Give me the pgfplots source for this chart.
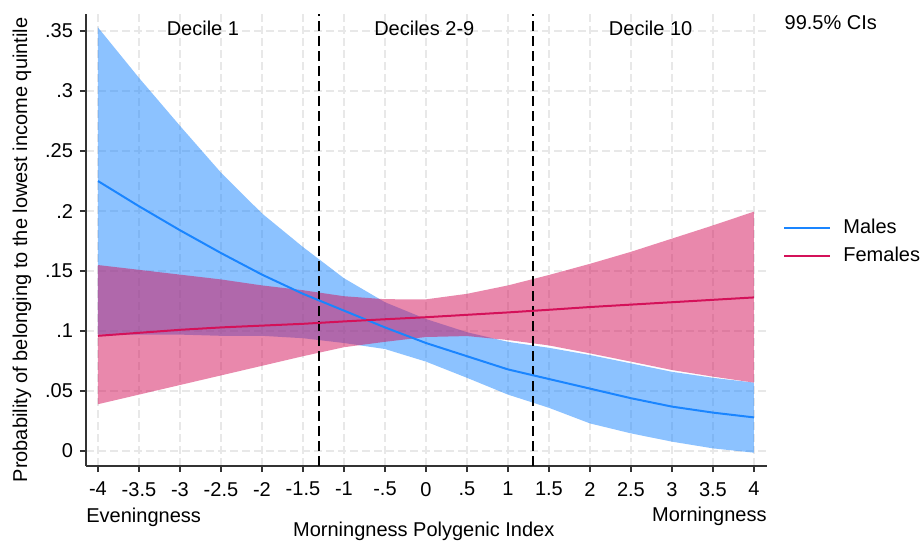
\documentclass[border=0pt]{standalone}
\usepackage{fontspec}
\setmainfont{Liberation Sans}
\usepackage{pgfplots}
\pgfplotsset{compat=1.18}
\usepgfplotslibrary{fillbetween}
\usepackage{pgfplotstable}
\definecolor{stcA}{RGB}{26,133,255}
\definecolor{stcB}{RGB}{212,17,89}

\pgfplotstableread{
x    mlo     m      mhi    flo     f       fhi
-4   0.097   0.225  0.353  0.039   0.096   0.155
-3.5 0.097   0.204  0.311  0.047   0.0985  0.151
-3   0.097   0.184  0.271  0.055   0.101   0.147
-2.5 0.096   0.165  0.232  0.063   0.103   0.143
-2   0.096   0.147  0.198  0.071   0.1045  0.138
-1.5 0.094   0.131  0.170  0.079   0.106   0.134
-1   0.090   0.117  0.144  0.0865  0.108   0.129
-0.5 0.085   0.103  0.124  0.091   0.1098  0.1265
0    0.0745  0.090  0.110  0.095   0.1115  0.1264
0.5  0.061   0.079  0.099  0.0958  0.1135  0.131
1    0.047   0.068  0.091  0.0925  0.1155  0.138
1.5  0.036   0.060  0.086  0.088   0.1177  0.1467
2    0.023   0.052  0.080  0.0814  0.120   0.156
2.5  0.0147  0.044  0.073  0.0745  0.122   0.166
3    0.0078  0.037  0.066  0.0675  0.124   0.177
3.5  0.0022  0.032  0.061  0.062   0.126   0.188
4    -0.0014 0.028  0.057  0.057   0.128   0.1995
}\data

\begin{document}
\begin{tikzpicture}
\begin{axis}[
  at={(0,0)}, anchor=south west,
  scale only axis, width=340.5pt, height=226pt,
  xmin=-4.146, xmax=4.159, ymin=-0.0125, ymax=0.3642,
  axis x line*=bottom, axis y line*=left,
  axis line style={black!80, line width=0.6pt},
  tick align=outside, major tick length=3pt,
  tick style={black!80, line width=0.6pt},
  xtick={-4,-3.5,-3,-2.5,-2,-1.5,-1,-0.5,0,0.5,1,1.5,2,2.5,3,3.5,4},
  xticklabels={-4,-3.5,-3,-2.5,-2,-1.5,-1,-.5,0,.5,1,1.5,2,2.5,3,3.5,4},
  ytick={0,0.05,0.1,0.15,0.2,0.25,0.3,0.35},
  yticklabels={0,.05,.1,.15,.2,.25,.3,.35},
  ticklabel style={font=\fontsize{10}{12}\selectfont},
  xticklabel style={yshift=-1.5pt},
  grid=major,
  major grid style={black!9, dash pattern=on 4pt off 2pt, line width=0.6pt},
  xlabel={Morningness Polygenic Index},
  ylabel={Probability of belonging to the lowest income quintile},
  label style={font=\fontsize{10}{12}\selectfont},
  xlabel style={at={(axis description cs:0.496,-0.156)}, anchor=base},
  ylabel style={at={(axis description cs:-0.0866,0.478)}, anchor=base},
  clip=false,
  legend style={at={(axis cs:4.354,0.174)}, anchor=west, draw=none, fill=none,
    inner sep=0pt, font=\fontsize{10}{12}\selectfont, row sep=4pt, column sep=6pt,
    nodes={inner sep=0pt, text height=7.5pt, text depth=2.5pt}},
  legend cell align=left,
  legend image code/.code={\draw[#1] (0pt,0pt) -- (23pt,0pt);},
]
\addplot[draw=none, forget plot, name path=mU] table[x=x,y=mhi]{\data};
\addplot[draw=none, forget plot, name path=mL] table[x=x,y=mlo]{\data};
\addplot[fill=stcA, fill opacity=0.5, draw=none, forget plot] fill between[of=mU and mL];
\addplot[draw=none, forget plot, name path=fU] table[x=x,y=fhi]{\data};
\addplot[draw=none, forget plot, name path=fL] table[x=x,y=flo]{\data};
\addplot[fill=stcB, fill opacity=0.5, draw=none, forget plot] fill between[of=fU and fL];
\addplot[black, line width=1pt, dash pattern=on 5pt off 2.5pt, forget plot] coordinates {(-1.31,-0.0125) (-1.31,0.3642)};
\addplot[black, line width=1pt, dash pattern=on 5pt off 2.5pt, forget plot] coordinates {(1.31,-0.0125) (1.31,0.3642)};
\addplot[stcA, line width=1pt] table[x=x,y=m]{\data};
\addlegendentry{Males}
\addplot[stcB, line width=1pt] table[x=x,y=f]{\data};
\addlegendentry{Females}
\node[font=\fontsize{10}{12}\selectfont, anchor=base] at (axis cs:-2.72,0.3467) {Decile 1};
\node[font=\fontsize{10}{12}\selectfont, anchor=base] at (axis cs:-0.02,0.3467) {Deciles 2-9};
\node[font=\fontsize{10}{12}\selectfont, anchor=base] at (axis cs:2.74,0.3467) {Decile 10};
\node[font=\fontsize{10}{12}\selectfont, anchor=base west, inner sep=0pt] at (axis cs:4.37,0.3514) {99.5\% CIs};
\node[font=\fontsize{10}{12}\selectfont, anchor=base west, inner sep=0pt] at (rel axis cs:0,-0.1239) {Eveningness};
\node[font=\fontsize{10}{12}\selectfont, anchor=base east, inner sep=0pt] at (rel axis cs:1,-0.1217) {Morningness};
\end{axis}
\pgfresetboundingbox
\path[use as bounding box] (-43pt,-38.5pt) rectangle (418pt,233pt);
\end{tikzpicture}
\end{document}
